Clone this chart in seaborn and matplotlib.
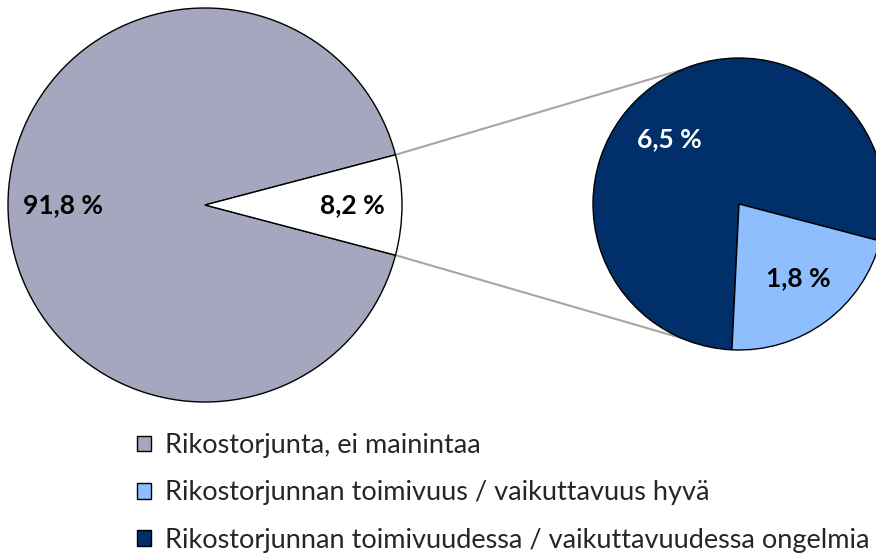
import numpy as np
import seaborn as sns
import matplotlib.pyplot as plt

sns.set_theme(style="white")
plt.rcParams['font.family'] = ['Lato', 'DejaVu Sans']

# data
main_labels = ['Rikostorjunta, ei mainintaa', 'Rikostorjunnan toimivuus / vaikuttavuus']
main_values = [91.8, 8.2]
sub_labels = ['Rikostorjunnan toimivuudessa / vaikuttavuudessa ongelmia',
              'Rikostorjunnan toimivuus / vaikuttavuus hyvä']
sub_values = [6.5, 1.8]

gray = '#A4A7BE'
light = '#8FBEFF'
navy = '#002F6A'

fig = plt.figure(figsize=(8.76, 5.55), dpi=100)
ax = fig.add_axes([0, 0, 1, 1])
ax.set_xlim(0, 876)
ax.set_ylim(0, 555)
ax.set_aspect('equal')
ax.axis('off')

# main pie, white slice centered on the right
c1, r1 = (205, 350), 197
start1 = main_values[1] / sum(main_values) * 180
w1 = ax.pie(main_values, colors=[gray, 'white'], startangle=start1,
            center=c1, radius=r1, frame=True,
            wedgeprops=dict(edgecolor='black', linewidth=1))[0]
for w, v, d in zip(w1, main_values, [0.72, 0.75]):
    ang = np.deg2rad((w.theta1 + w.theta2) / 2)
    ax.text(c1[0] + d * r1 * np.cos(ang), c1[1] + d * r1 * np.sin(ang),
            ('%.1f %%' % v).replace('.', ','), ha='center', va='center',
            fontsize=19, fontweight='bold', color='black')

# secondary pie
c2, r2 = (739, 351), 146
start2 = -14.7
w2 = ax.pie(sub_values, colors=[navy, light], startangle=start2,
            center=c2, radius=r2, frame=True,
            wedgeprops=dict(edgecolor='black', linewidth=1))[0]
label_ang = [137, -51]
for w, v, a, col in zip(w2, sub_values, label_ang, ['white', 'black']):
    ang = np.deg2rad(a)
    ax.text(c2[0] + 0.65 * r2 * np.cos(ang), c2[1] + 0.65 * r2 * np.sin(ang),
            ('%.1f %%' % v).replace('.', ','), ha='center', va='center',
            fontsize=19, fontweight='bold', color=col)

ax.set_xlim(0, 876)
ax.set_ylim(0, 555)

# connector lines
wt = w1[1]
for a1, a2 in [(wt.theta2, 113.5), (wt.theta1, 246.5)]:
    p1 = (c1[0] + r1 * np.cos(np.deg2rad(a1)), c1[1] + r1 * np.sin(np.deg2rad(a1)))
    p2 = (c2[0] + r2 * np.cos(np.deg2rad(a2)), c2[1] + r2 * np.sin(np.deg2rad(a2)))
    ax.plot([p1[0], p2[0]], [p1[1], p2[1]], color='#A6A6A6', lw=1.5, zorder=0)

# legend
handles = [w1[0], w2[1], w2[0]]
labels = [main_labels[0], sub_labels[1], sub_labels[0]]
leg = fig.legend(handles, labels, loc='upper left',
                 bbox_to_anchor=(137 / 876, 1 - 433 / 555), frameon=False,
                 fontsize=19.5, handlelength=0.52, handleheight=0.52,
                 handletextpad=0.52, labelspacing=0.83,
                 borderpad=0, borderaxespad=0)
for h in leg.legend_handles:
    h.set_linewidth(1)

fig.savefig('out.png', dpi=100)
